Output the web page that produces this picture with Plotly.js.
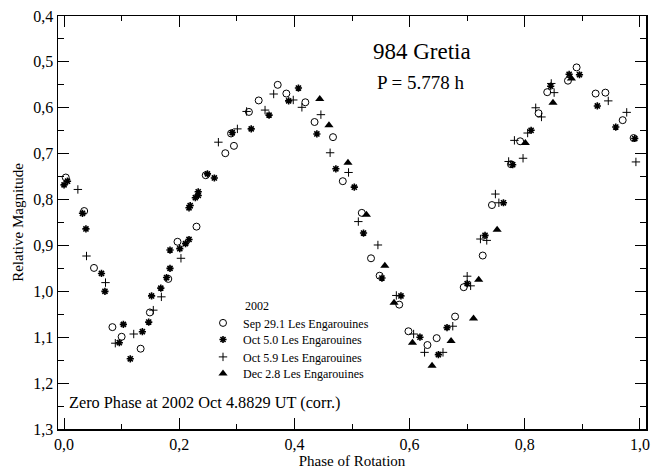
<!DOCTYPE html>
<html>
<head>
<meta charset="utf-8">
<script src="https://cdn.plot.ly/plotly-3.0.1.min.js"></script>
<style>html,body{margin:0;padding:0;background:#fff;}</style>
</head>
<body>
<div id="chart" style="width:653px;height:471px;"></div>
<script>
// Sep 29.1 Les Engarouines (open circles)
var sepX = [0.003,0.035,0.052,0.084,0.100,0.133,0.149,0.181,0.197,0.230,0.246,0.280,0.290,0.295,0.321,0.338,0.371,0.386,0.419,0.435,0.467,0.484,0.517,0.533,0.548,0.582,0.598,0.631,0.647,0.679,0.694,0.727,0.743,0.776,0.792,0.824,0.839,0.875,0.890,0.923,0.940,0.970,0.989];
var sepY = [0.752,0.825,0.949,1.078,1.099,1.125,1.046,0.973,0.892,0.859,0.747,0.699,0.656,0.683,0.609,0.584,0.550,0.569,0.588,0.631,0.664,0.760,0.829,0.928,0.966,1.029,1.087,1.117,1.102,1.055,0.991,0.922,0.812,0.723,0.673,0.612,0.566,0.541,0.512,0.569,0.567,0.627,0.666];

// Oct 5.0 Les Engarouines (asterisks)
var oct50X = [0.000,0.006,0.032,0.038,0.065,0.071,0.096,0.103,0.115,0.136,0.147,0.152,0.168,0.178,0.184,0.184,0.201,0.211,0.217,0.217,0.219,0.228,0.233,0.233,0.249,0.261,0.292,0.325,0.356,0.390,0.407,0.439,0.472,0.504,0.520,0.552,0.585,0.618,0.650,0.665,0.700,0.731,0.763,0.779,0.811,0.845,0.877,0.895,0.926,0.958,0.991];
var oct50Y = [0.768,0.760,0.830,0.864,0.961,1.000,1.112,1.072,1.147,1.088,1.067,1.010,0.993,0.970,0.950,0.910,0.907,0.896,0.887,0.818,0.813,0.796,0.791,0.783,0.744,0.753,0.654,0.646,0.616,0.585,0.557,0.657,0.733,0.773,0.873,0.971,1.010,1.100,1.138,1.079,0.983,0.878,0.807,0.724,0.649,0.553,0.527,0.528,0.596,0.642,0.667];

// Oct 5.9 Les Engarouines (plus)
var oct59X = [0.024,0.039,0.072,0.089,0.121,0.155,0.169,0.203,0.268,0.301,0.317,0.349,0.364,0.398,0.413,0.446,0.462,0.494,0.511,0.545,0.577,0.607,0.626,0.658,0.675,0.700,0.706,0.723,0.734,0.749,0.755,0.772,0.782,0.797,0.805,0.819,0.829,0.846,0.851,0.945,0.977,0.993];
var oct59Y = [0.778,0.923,0.981,1.113,1.093,1.041,1.012,0.928,0.675,0.646,0.608,0.605,0.570,0.583,0.599,0.615,0.698,0.741,0.848,0.899,1.009,1.093,1.133,1.133,1.076,0.967,0.988,0.886,0.889,0.788,0.807,0.717,0.671,0.710,0.655,0.600,0.620,0.547,0.567,0.585,0.610,0.718];

// Dec 2.8 Les Engarouines (filled triangles)
var decX = [0.444,0.460,0.493,0.525,0.557,0.573,0.605,0.639,0.672,0.711,0.720,0.752,0.801,0.849,0.881];
var decY = [0.581,0.638,0.720,0.833,0.944,1.025,1.112,1.162,1.108,1.059,0.975,0.866,0.677,0.589,0.536];

var seriesNames = ['Sep 29.1 Les Engarouines','Oct 5.0 Les Engarouines','Oct 5.9 Les Engarouines','Dec 2.8 Les Engarouines'];
var xTickVals = [0.0,0.2,0.4,0.6,0.8,1.0];
var yTickVals = [0.4,0.5,0.6,0.7,0.8,0.9,1.0,1.1,1.2,1.3];

var FONT = '"Liberation Serif", "Times New Roman", serif';

var traces = [
  {x: sepX, y: sepY, name: seriesNames[0], type: 'scatter', mode: 'markers', legend: 'legend',
   marker: {symbol: 'circle-open', size: 7, color: '#000', line: {width: 1, color: '#000'}}},
  {x: oct50X, y: oct50Y, name: seriesNames[1], type: 'scatter', mode: 'markers', legend: 'legend2',
   marker: {symbol: 'asterisk-open', size: 6, color: '#000', line: {width: 1.6, color: '#000'}}},
  {x: oct59X, y: oct59Y, name: seriesNames[2], type: 'scatter', mode: 'markers', legend: 'legend3',
   marker: {symbol: 'cross-thin-open', size: 6, color: '#000', line: {width: 1, color: '#000'}}},
  {x: decX, y: decY, name: seriesNames[3], type: 'scatter', mode: 'markers', legend: 'legend4',
   marker: {symbol: 'triangle-up', size: 8, color: '#000', line: {width: 0}}}
];

function legendAt(yTop) {
  return {x: 0.2466, y: yTop, xanchor: 'left', yanchor: 'top',
          bgcolor: 'rgba(0,0,0,0)', borderwidth: 0,
          font: {family: FONT, size: 12, color: '#000'}};
}

var layout = {
  width: 653, height: 471,
  margin: {l: 58, r: 7, t: 16, b: 42, pad: 0},
  paper_bgcolor: '#fff', plot_bgcolor: '#fff',
  separators: ',.',
  font: {family: FONT, color: '#000', size: 15},
  showlegend: true,
  legend: legendAt(0.2920),
  legend2: legendAt(0.2518),
  legend3: legendAt(0.2097),
  legend4: legendAt(0.1695),
  xaxis: {
    range: [-0.0105, 1.0105], tickvals: xTickVals, tickformat: '.1f',
    ticks: 'inside', ticklen: 11, tickwidth: 1, tickcolor: '#000',
    minor: {dtick: 0.1, tick0: 0, ticks: 'inside', ticklen: 5, tickwidth: 1, tickcolor: '#000'},
    showline: true, linewidth: 1.5, linecolor: '#000', mirror: 'ticks',
    showgrid: false, zeroline: false,
    tickfont: {family: FONT, size: 16, color: '#000'},
    title: {text: 'Phase of Rotation', font: {family: FONT, size: 15, color: '#000'}, standoff: 4}
  },
  yaxis: {
    range: [1.3, 0.4], tickvals: yTickVals, tickformat: '.1f',
    ticks: 'inside', ticklen: 11, tickwidth: 1, tickcolor: '#000',
    minor: {dtick: 0.05, tick0: 0.4, ticks: 'inside', ticklen: 6, tickwidth: 1, tickcolor: '#000'},
    showline: true, linewidth: 1.5, linecolor: '#000', mirror: 'ticks',
    showgrid: false, zeroline: false,
    tickfont: {family: FONT, size: 16, color: '#000'},
    title: {text: 'Relative Magnitude', font: {family: FONT, size: 15, color: '#000'}, standoff: 6}
  },
  annotations: [
    {text: '984 Gretia', xref: 'paper', yref: 'paper', x: 0.619, y: 0.913, xanchor: 'center', yanchor: 'middle', showarrow: false, font: {family: FONT, size: 23, color: '#000'}},
    {text: 'P = 5.778 h', xref: 'paper', yref: 'paper', x: 0.618, y: 0.838, xanchor: 'center', yanchor: 'middle', showarrow: false, font: {family: FONT, size: 19, color: '#000'}},
    {text: '2002', xref: 'paper', yref: 'paper', x: 0.3146, y: 0.298, xanchor: 'left', yanchor: 'middle', showarrow: false, font: {family: FONT, size: 12, color: '#000'}},
    {text: 'Zero Phase at 2002 Oct 4.8829 UT (corr.)', xref: 'paper', yref: 'paper', x: 0.0155, y: 0.063, xanchor: 'left', yanchor: 'middle', showarrow: false, font: {family: FONT, size: 16.3, color: '#000'}}
  ]
};

Plotly.newPlot('chart', traces, layout, {displayModeBar: false, staticPlot: true});
</script>
</body>
</html>
